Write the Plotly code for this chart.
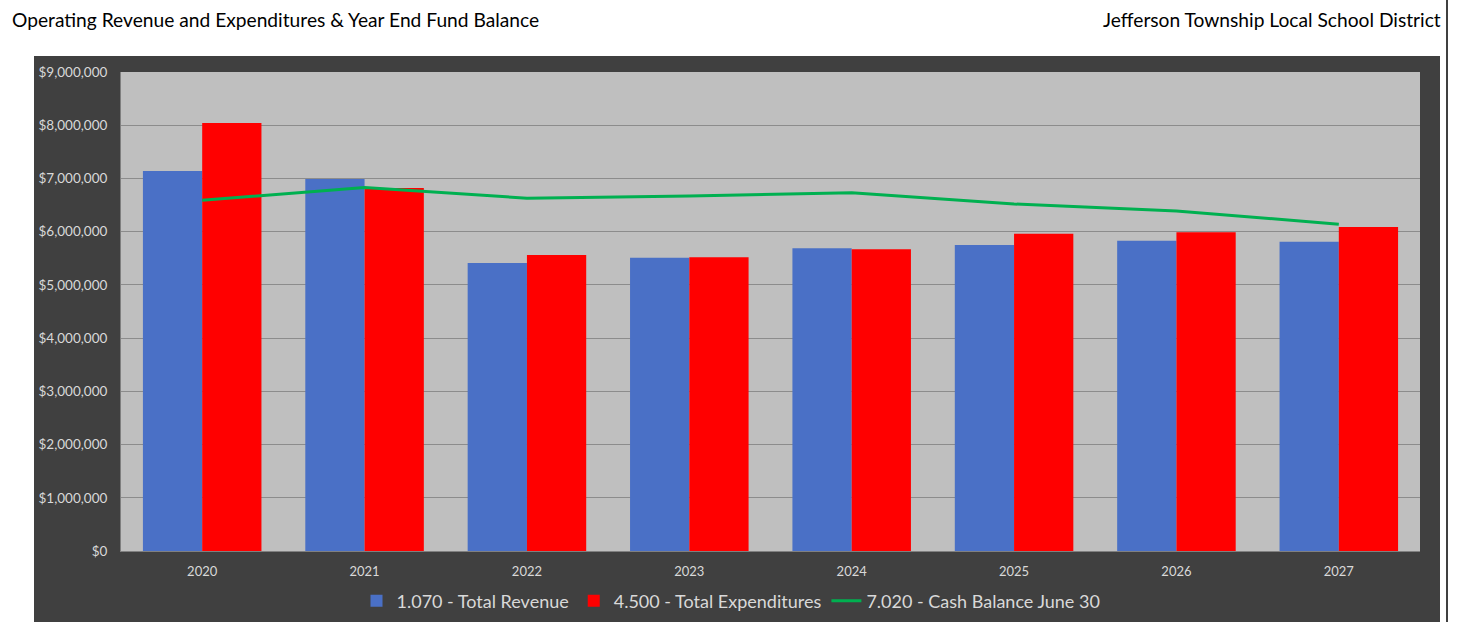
import plotly.graph_objects as go

years = ["2020", "2021", "2022", "2023", "2024", "2025", "2026", "2027"]
total_revenue = [7140000, 6990000, 5410000, 5510000, 5690000, 5750000, 5830000, 5810000]
total_expenditures = [8040000, 6820000, 5560000, 5520000, 5670000, 5960000, 5990000, 6090000]
cash_balance = [6590000, 6830000, 6630000, 6670000, 6730000, 6520000, 6390000, 6140000]

FONT = "Lato, Carlito, 'Open Sans', sans-serif"

fig = go.Figure()
fig.add_trace(go.Bar(x=years, y=total_revenue, name="1.070 - Total Revenue",
                     marker=dict(color="#4a70c6", line=dict(width=0))))
fig.add_trace(go.Bar(x=years, y=total_expenditures, name="4.500 - Total Expenditures",
                     marker=dict(color="#ff0000", line=dict(width=0))))
fig.add_trace(go.Scatter(x=years, y=cash_balance, name="7.020 - Cash Balance June 30",
                         mode="lines", line=dict(color="#00b050", width=3)))

W, H = 1463, 622
L, R, T, B = 121, 1420, 72, 551
pw, ph = R - L, B - T

def px(x):
    return (x - L) / pw

def py(y):
    return (B - y) / ph

fig.update_layout(
    width=W, height=H,
    margin=dict(l=L, r=W - R, t=T, b=H - B, pad=0, autoexpand=False),
    paper_bgcolor="white",
    plot_bgcolor="#bfbfbf",
    barmode="group",
    bargap=0.27,
    bargroupgap=0,
    font=dict(family=FONT, color="#d9d9d9", size=12),
    showlegend=True,
    legend=dict(orientation="h", xref="container", yref="container",
                x=731 / W, xanchor="center", y=1 - 601 / H, yanchor="middle",
                font=dict(size=18, color="#d9d9d9"), bgcolor="rgba(0,0,0,0)",
                itemwidth=30, traceorder="normal"),
    xaxis=dict(showgrid=False, showline=True, linecolor="#808080", linewidth=1,
               ticks="", tickfont=dict(size=13, color="#d9d9d9"), ticklabelstandoff=8),
    yaxis=dict(range=[0, 9000000], dtick=1000000, tickprefix="$", tickformat=",",
               showgrid=True, gridcolor="#8c8c8c", gridwidth=1, zeroline=False,
               showline=True, linecolor="#7f7f7f", linewidth=1,
               ticks="", tickfont=dict(size=13.5, color="#d9d9d9"), ticklabelstandoff=10),
    shapes=[
        dict(type="rect", xref="paper", yref="paper", x0=px(34), x1=px(1440),
             y0=py(622), y1=py(56), fillcolor="#404040", line=dict(width=0), layer="below"),
        dict(type="rect", xref="paper", yref="paper", x0=0, x1=1,
             y0=0, y1=1, fillcolor="#bfbfbf", line=dict(width=0), layer="below"),
        dict(type="line", xref="paper", yref="paper", x0=px(1447), x1=px(1447),
             y0=py(622), y1=py(0), line=dict(color="black", width=1.5)),
    ],
    annotations=[
        dict(text="Operating Revenue and Expenditures & Year End Fund Balance",
             xref="paper", yref="paper", x=px(10), y=py(19), xanchor="left", yanchor="middle",
             showarrow=False, font=dict(size=19.2, color="black", family=FONT)),
        dict(text="Jefferson Township Local School District",
             xref="paper", yref="paper", x=px(1443), y=py(19), xanchor="right", yanchor="middle",
             showarrow=False, font=dict(size=19.2, color="black", family=FONT)),
    ],
)

fig.write_html("out.html", config={"displayModeBar": False},
               post_script="document.body.style.margin='0';")
